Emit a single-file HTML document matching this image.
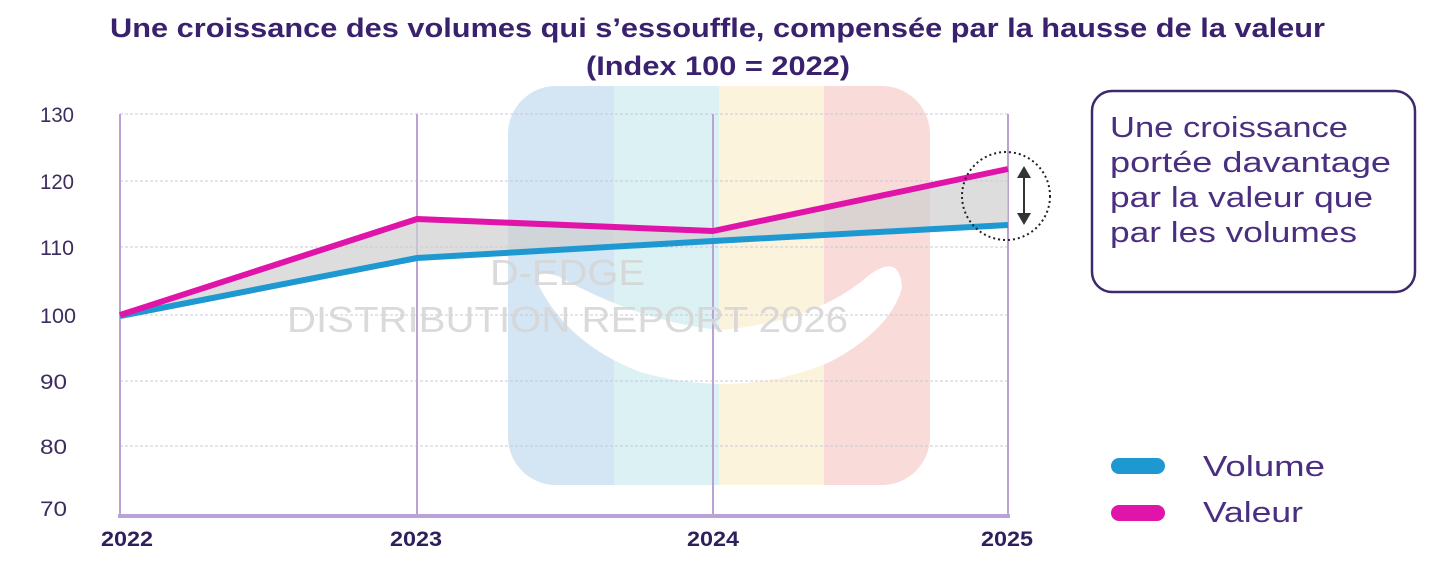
<!DOCTYPE html>
<html><head><meta charset="utf-8"><style>
html,body{margin:0;padding:0;background:#fff;width:1436px;height:570px;overflow:hidden}
svg{display:block}
</style></head><body>
<svg width="1436" height="570" viewBox="0 0 1436 570" xmlns="http://www.w3.org/2000/svg" font-family="Liberation Sans, sans-serif">
<defs><clipPath id="wm"><rect x="508" y="86" width="422" height="399" rx="48"/></clipPath></defs>
<text x="110" y="37" textLength="1215" lengthAdjust="spacingAndGlyphs" font-size="27" font-weight="bold" fill="#3a216e">Une croissance des volumes qui s’essouffle, compensée par la hausse de la valeur</text>
<text x="586" y="75" textLength="264" lengthAdjust="spacingAndGlyphs" font-size="27" font-weight="bold" fill="#3a216e">(Index 100 = 2022)</text>
<g clip-path="url(#wm)">
<rect x="508" y="86" width="106" height="399" fill="#d4e5f4"/>
<rect x="614" y="86" width="105" height="399" fill="#dcf1f3"/>
<rect x="719" y="86" width="105" height="399" fill="#fcf3dc"/>
<rect x="824" y="86" width="106" height="399" fill="#f9dcda"/>
</g>
<path d="M540 288 Q530 268 558 276 Q640 322 720 330 Q815 322 868 276 Q900 252 902 288 Q890 330 830 362 Q740 400 640 372 Q570 345 540 288Z" fill="#fff"/>
<g stroke="#c8c8d4" stroke-width="1" stroke-dasharray="3,2">
<line x1="120" y1="114" x2="1008" y2="114"/><line x1="120" y1="181" x2="1008" y2="181"/>
<line x1="120" y1="247" x2="1008" y2="247"/><line x1="120" y1="315" x2="1008" y2="315"/>
<line x1="120" y1="381" x2="1008" y2="381"/><line x1="120" y1="446" x2="1008" y2="446"/>
</g>
<g stroke="#b9a3d6" stroke-width="2">
<line x1="120" y1="114" x2="120" y2="516"/><line x1="417" y1="114" x2="417" y2="516"/>
<line x1="713" y1="114" x2="713" y2="516"/><line x1="1008" y1="114" x2="1008" y2="516"/>
</g>
<line x1="118" y1="516" x2="1010" y2="516" stroke="#b9a3d6" stroke-width="4"/>
<g font-size="21" fill="#3d2c5e" lengthAdjust="spacingAndGlyphs">
<text x="40" y="122" textLength="34" lengthAdjust="spacingAndGlyphs">130</text><text x="40" y="189" textLength="34" lengthAdjust="spacingAndGlyphs">120</text><text x="40" y="255" textLength="34" lengthAdjust="spacingAndGlyphs">110</text>
<text x="40" y="323" textLength="36" lengthAdjust="spacingAndGlyphs">100</text><text x="40" y="389" textLength="27" lengthAdjust="spacingAndGlyphs">90</text><text x="40" y="454" textLength="27" lengthAdjust="spacingAndGlyphs">80</text><text x="40" y="516" textLength="27" lengthAdjust="spacingAndGlyphs">70</text>
</g>
<g font-size="21" font-weight="bold" fill="#2f1f5c">
<text x="101" y="546" textLength="52" lengthAdjust="spacingAndGlyphs">2022</text><text x="390" y="546" textLength="52" lengthAdjust="spacingAndGlyphs">2023</text><text x="687" y="546" textLength="52" lengthAdjust="spacingAndGlyphs">2024</text><text x="981" y="546" textLength="52" lengthAdjust="spacingAndGlyphs">2025</text>
</g>
<polygon points="120,315 417,219 713,231 1008,169 1008,225 713,241 417,258 120,316" fill="#cfcfcf" opacity="0.7"/>
<text x="490" y="285" textLength="155" lengthAdjust="spacingAndGlyphs" font-size="36" fill="#d6d6d6" opacity="0.9">D-EDGE</text>
<text x="287" y="332" textLength="561" lengthAdjust="spacingAndGlyphs" font-size="36" fill="#d6d6d6" opacity="0.9">DISTRIBUTION REPORT 2026</text>
<polyline points="120,316 417,258 713,241 1008,225" fill="none" stroke="#1e98d0" stroke-width="6" stroke-linejoin="round"/>
<polyline points="120,315 417,219 713,231 1008,169" fill="none" stroke="#e014a8" stroke-width="6" stroke-linejoin="round"/>
<circle cx="1006" cy="196" r="44" fill="none" stroke="#222" stroke-width="2" stroke-dasharray="2,3"/>
<line x1="1024" y1="176" x2="1024" y2="216" stroke="#333" stroke-width="2"/>
<polygon points="1017,178 1031,178 1024,166" fill="#333"/>
<polygon points="1017,213 1031,213 1024,225" fill="#333"/>
<rect x="1092" y="91" width="323" height="201" rx="20" fill="#fff" stroke="#3d2a6b" stroke-width="2.5"/>
<g font-size="29" fill="#4a2f80">
<text x="1110" y="137" textLength="238" lengthAdjust="spacingAndGlyphs">Une croissance</text><text x="1110" y="172" textLength="281" lengthAdjust="spacingAndGlyphs">portée davantage</text>
<text x="1110" y="207" textLength="263" lengthAdjust="spacingAndGlyphs">par la valeur que</text><text x="1110" y="242" textLength="247" lengthAdjust="spacingAndGlyphs">par les volumes</text>
</g>
<rect x="1111" y="458" width="54" height="16" rx="8" fill="#1e98d0"/>
<rect x="1111" y="505" width="54" height="16" rx="8" fill="#e014a8"/>
<text x="1203" y="476" font-size="29" fill="#4a2f80" textLength="122" lengthAdjust="spacingAndGlyphs">Volume</text>
<text x="1203" y="522" font-size="29" fill="#4a2f80" textLength="100" lengthAdjust="spacingAndGlyphs">Valeur</text>
</svg>
</body></html>
